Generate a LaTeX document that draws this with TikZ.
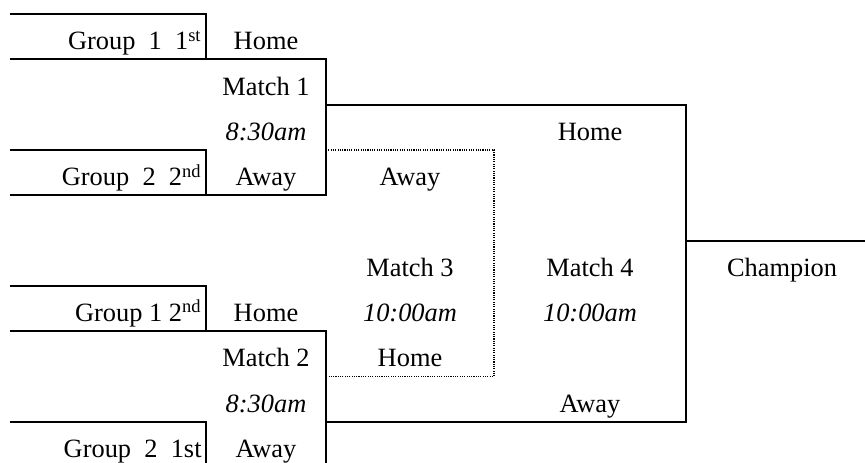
\documentclass[tikz,border=0pt]{standalone}
\usepackage{fontspec}
\setmainfont{Liberation Serif}
\usetikzlibrary{positioning}
\tikzset{
  label/.style   = { anchor=base, inner sep=0pt, font=\fontsize{13.2}{15}\selectfont },
  team/.style    = { label, anchor=base east },
  slot/.style    = { label },
  match/.style   = { label },
  kickoff/.style = { label, font=\fontsize{13.2}{15}\selectfont\itshape },
  bracket/.style = { line width=1pt, black },
  feed/.style    = { line width=0.6pt, black, dash pattern=on 0.55pt off 0.6pt }
}

\begin{document}
\begin{tikzpicture}[x=0.5pt,y=-22.65pt]
  \useasboundingbox (0,0) rectangle (865,10.2);

  % first round, upper half
  \node (g11)  [team]    at (202,1.10) {Group\ \ 1\ \ 1\textsuperscript{st}};
  \node (h1)   [slot]    at (266,1.10) {Home};
  \node (m1)   [match]   at (266,2.10) {Match 1};
  \node (t1)   [kickoff] at (266,3.10) {8:30am};
  \node (g22)  [team]    at (202,4.10) {Group\ \ 2\ \ 2\textsuperscript{nd}};
  \node (a1)   [slot]    at (266,4.10) {Away};

  % first round, lower half
  \node (g12)  [team]    at (202,7.10) {Group 1 2\textsuperscript{nd}};
  \node (h2)   [slot]    at (266,7.10) {Home};
  \node (m2)   [match]   at (266,8.10) {Match 2};
  \node (t2)   [kickoff] at (266,9.10) {8:30am};
  \node (g21)  [team]    at (202,10.10) {Group\ \ 2\ \ 1st};
  \node (a2)   [slot]    at (266,10.10) {Away};

  % match 3
  \node (a3)   [slot]    at (410,4.10) {Away};
  \node (m3)   [match]   at (410,6.10) {Match 3};
  \node (t3)   [kickoff] at (410,7.10) {10:00am};
  \node (h3)   [slot]    at (410,8.10) {Home};

  % match 4
  \node (h4)   [slot]    at (590,3.10) {Home};
  \node (m4)   [match]   at (590,6.10) {Match 4};
  \node (t4)   [kickoff] at (590,7.10) {10:00am};
  \node (a4)   [slot]    at (590,9.10) {Away};

  \node (champ) [match]  at (782,6.10) {Champion};

  % bracket lines
  \draw [bracket] (10,0.31) -| (206,1.31);
  \draw [bracket] (10,1.31) -| (326,4.31) -- (10,4.31);
  \draw [bracket] (10,3.31) -| (206,4.31);

  \draw [bracket] (10,6.31) -| (206,7.31);
  \draw [bracket] (10,7.31) -| (326,10.3);
  \draw [bracket] (10,9.31) -| (206,10.3);

  \draw [bracket] (326,2.31) -| (686,9.31) -- (326,9.31);
  \draw [bracket] (686,5.31) -- (865,5.31);

  \draw [feed] (326,3.31) -| (494,8.31) -- (326,8.31);
\end{tikzpicture}
\end{document}
